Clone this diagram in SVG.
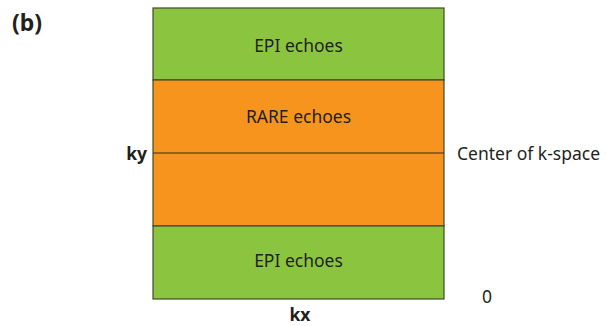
<svg xmlns="http://www.w3.org/2000/svg" width="606" height="326" viewBox="0 0 606 326">
<style>
text{font-family:"Noto Sans","Open Sans","Liberation Sans",sans-serif;fill:#231f20;font-size:17.5px}
.b{font-weight:bold}
.c{text-anchor:middle}
.g{fill:#8bc540;stroke:#404a2a;stroke-width:1.2}
.o{fill:#f7941e;stroke:#404a2a;stroke-width:1.2}
</style>
<rect width="606" height="326" fill="#fff"/>
<g id="epi-top"><rect class="g" x="153" y="8" width="291" height="72"/><text class="c" x="298.5" y="52">EPI echoes</text></g>
<g id="rare"><rect class="o" x="153" y="80" width="291" height="146"/><text class="c" x="298.5" y="123">RARE echoes</text></g>
<g id="epi-bottom"><rect class="g" x="153" y="226" width="291" height="73"/><text class="c" x="298.5" y="267">EPI echoes</text></g>
<g id="connectors"><line x1="153" y1="153" x2="444" y2="153" stroke="#3a2a1a" stroke-width="1.2"/></g>
<text class="b" x="12" y="31" style="font-size:23px">(b)</text>
<text class="b" x="147" y="160" text-anchor="end">ky</text>
<text x="457" y="160">Center of k-space</text>
<text x="482" y="303">0</text>
<text class="b c" x="300" y="321">kx</text>
</svg>
